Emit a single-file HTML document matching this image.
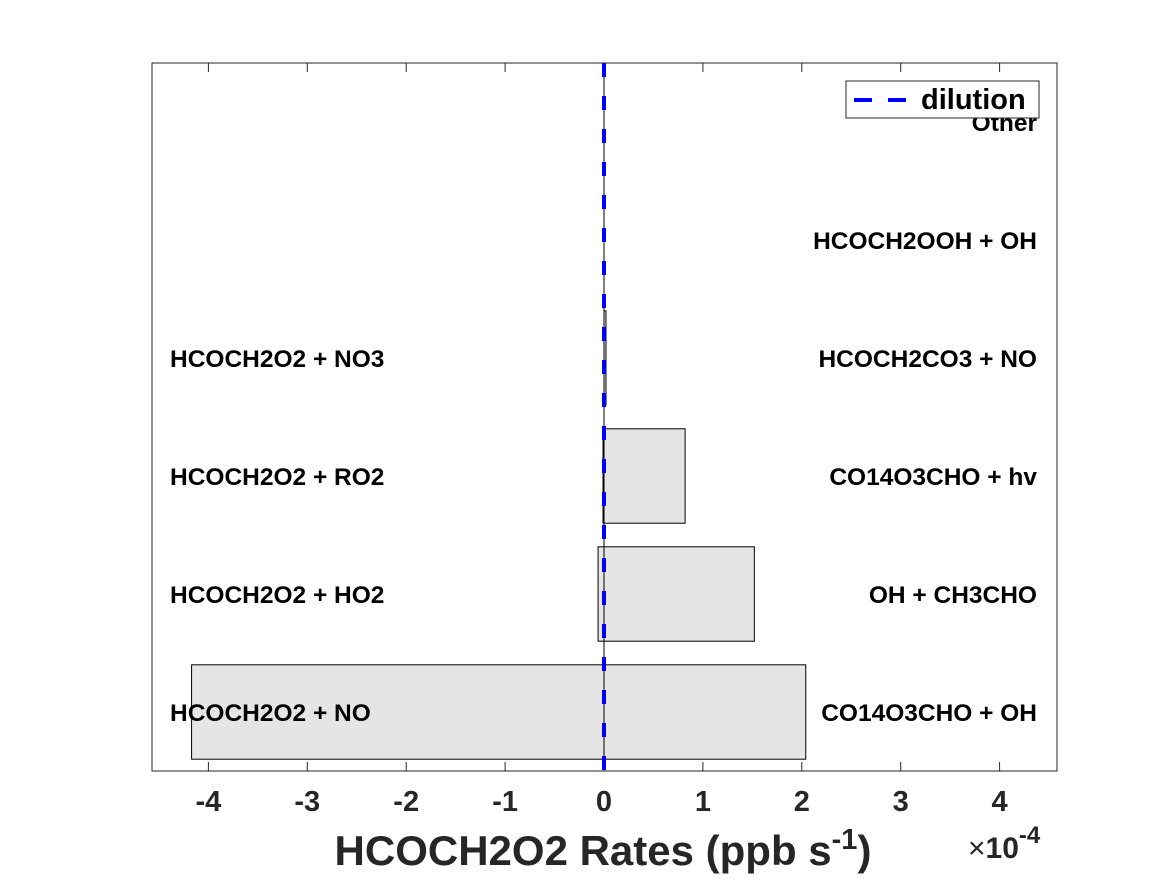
<!DOCTYPE html>
<html><head><meta charset="utf-8"><style>
body{margin:0;background:#fff;}
svg text{font-family:"Liberation Sans",Arial,sans-serif;font-weight:bold;}
</style></head><body>
<svg id="chart" width="1167" height="875" viewBox="0 0 1167 875">
<rect x="0" y="0" width="1167" height="875" fill="#fff"/>
<g id="bars"></g>
<g id="labels"></g>
<g id="axes"></g>
</svg>
<script>
const categoriesLeft=["HCOCH2O2 + NO","HCOCH2O2 + HO2","HCOCH2O2 + RO2","HCOCH2O2 + NO3","",""];
const categoriesRight=["CO14O3CHO + OH","OH + CH3CHO","CO14O3CHO + hv","HCOCH2CO3 + NO","HCOCH2OOH + OH","Other"];
const negValues=[-4.17,-0.06,-0.01,0,0,0];
const posValues=[2.04,1.52,0.82,0.02,0,0];
const xTicks=[-4,-3,-2,-1,0,1,2,3,4];
const dilution=[0];
const L=152,R=1057,T=63,B=771;
const x=v=>604+v*98.9;
const y=i=>B-(i+1-0.5)*(B-T)/6;
const NS="http://www.w3.org/2000/svg";
function mk(tag,attrs,parent,txt){const e=document.createElementNS(NS,tag);for(const k in attrs)e.setAttribute(k,attrs[k]);if(txt!==undefined)e.textContent=txt;parent.appendChild(e);return e;}
const gb=document.getElementById('bars'),gl=document.getElementById('labels'),ga=document.getElementById('axes');
const bh=0.8*(B-T)/6;
for(let i=0;i<6;i++){
  const cy=y(i);
  if(negValues[i]!==0){
    const r=mk('rect',{x:x(negValues[i]),y:cy-bh/2,width:x(0)-x(negValues[i]),height:bh,fill:'#e5e5e5',stroke:'#000','stroke-width':1},gb);
    
    
  }
  if(posValues[i]!==0){
    const r=mk('rect',{x:x(0),y:cy-bh/2,width:x(posValues[i])-x(0),height:bh,fill:'#e5e5e5',stroke:'#000','stroke-width':1},gb);
    
    
  }
  if(categoriesLeft[i]){
    const t=mk('text',{x:170,y:cy+9,'font-size':24.5,fill:'#000'},gl,categoriesLeft[i]);
    
    
  }
  if(categoriesRight[i]){
    const t=mk('text',{x:1037,y:cy+9,'font-size':24.5,fill:'#000','text-anchor':'end'},gl,categoriesRight[i]);
    
    
  }
}
const box=mk('rect',{x:L,y:T,width:R-L,height:B-T,fill:'none',stroke:'#262626','stroke-width':1},ga);


mk('line',{x1:x(0),x2:x(0),y1:T,y2:B,stroke:'#000','stroke-width':1},ga);
xTicks.forEach(v=>{
  mk('line',{x1:x(v),x2:x(v),y1:B,y2:B-9,stroke:'#262626'},ga);
  mk('line',{x1:x(v),x2:x(v),y1:T,y2:T+9,stroke:'#262626'},ga);
  const t=mk('text',{x:x(v),y:811,'font-size':29,fill:'#262626','text-anchor':'middle'},ga,String(v));
  
  
});
dilution.forEach(v=>{
  const l=mk('line',{x1:x(v),x2:x(v),y1:T,y2:B,stroke:'#0000ff','stroke-width':4,'stroke-dasharray':'14 19'},ga);
  
  
});
</script>
<svg width="1167" height="875" style="position:absolute;left:0;top:0">
<text x="603" y="865" font-size="42" fill="#262626" text-anchor="middle">HCOCH2O2 Rates (ppb s<tspan dy="-16" font-size="29">-1</tspan><tspan dy="16">)</tspan></text>
<text x="968" y="858" font-size="30" fill="#262626"><tspan style="font-weight:normal">×</tspan>10<tspan dy="-15" font-size="24">-4</tspan></text>
<g>
<rect x="846" y="81" width="193" height="37" fill="#fff" stroke="#262626" stroke-width="1"/>
<line x1="854" y1="100" x2="906" y2="100" stroke="#0000ff" stroke-width="4" stroke-dasharray="18 16"/>
<text x="921" y="109" font-size="29" fill="#000">dilution</text>
</g>
</svg>
</body></html>
